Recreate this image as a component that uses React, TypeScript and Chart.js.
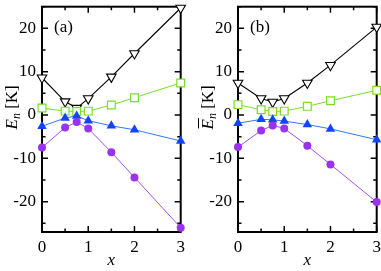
import { useEffect, useRef } from "react";
import { Chart, registerables } from "chart.js";
Chart.register(...registerables);

const xValues = [0, 0.5, 0.75, 1, 1.5, 2, 3];
const xTicks = [0, 1, 2, 3];
const xMinorTicks = [0.5, 1.5, 2.5];
const yTicks = [-20, -10, 0, 10, 20];
const yMinorTicks = [-25, -15, -5, 5, 15, 25];

const aBlack = [8.6, 3.1, 1.6, 3.8, 8.8, 14.2, 24.7];
const aGreen = [1.6, 0.9, 0.8, 0.9, 2.3, 4.0, 7.4];
const aBlue = [-2.6, -0.7, -0.2, -1.3, -2.5, -3.4, -6.0];
const aPurple = [-7.5, -2.9, -1.6, -3.1, -8.6, -14.4, -26.0];

const bBlack = [7.4, 3.8, 3.0, 3.8, 7.4, 11.5, 20.3];
const bGreen = [2.4, 1.2, 0.8, 0.9, 2.0, 3.3, 5.7];
const bBlue = [-1.9, -1.0, -1.1, -1.4, -2.2, -3.2, -5.7];
const bPurple = [-7.4, -3.6, -2.4, -3.1, -7.1, -11.4, -20.1];

const FONT = '"Liberation Serif", "Times New Roman", serif';
const FS = 17;

function pts(arr: number[]) {
  return xValues.map((x, i) => ({ x, y: arr[i] }));
}

function datasets(black: number[], green: number[], blue: number[], purple: number[]) {
  return [
    {
      data: pts(purple),
      borderColor: "#a050f0",
      borderWidth: 1,
      pointStyle: "circle",
      pointRadius: 4,
      pointBackgroundColor: "#9933ee",
      pointBorderColor: "#9933ee",
      pointBorderWidth: 0,
      clip: false,
    },
    {
      data: pts(blue),
      borderColor: "#3377ff",
      borderWidth: 1,
      pointStyle: "triangle",
      pointRadius: 5.5,
      pointBackgroundColor: "#1144ff",
      pointBorderColor: "#1144ff",
      pointBorderWidth: 0,
      clip: false,
    },
    {
      data: pts(green),
      borderColor: "#77e022",
      borderWidth: 1,
      pointStyle: "rect",
      pointRadius: 5.5,
      pointBackgroundColor: "#ffffff",
      pointBorderColor: "#77e022",
      pointBorderWidth: 1.2,
      clip: false,
    },
    {
      data: pts(black),
      borderColor: "#000000",
      borderWidth: 1.1,
      pointStyle: "triangle",
      rotation: 180,
      pointRotation: 180,
      pointRadius: 5.5,
      pointBackgroundColor: "#ffffff",
      pointBorderColor: "#000000",
      pointBorderWidth: 1.1,
      clip: false,
    },
  ];
}

function makePlugin(label: string, overline: boolean) {
  return {
    id: "frame",
    beforeDatasetsDraw(chart: any) {
      const { ctx, chartArea, scales } = chart;
      const { left, right, top, bottom } = chartArea;
      const x = scales.x;
      const y = scales.y;
      ctx.save();
      ctx.strokeStyle = "#000";
      ctx.lineWidth = 1.5;
      const major = 6;
      const minor = 3.5;
      ctx.beginPath();
      const xt = (v: number, len: number) => {
        const px = x.getPixelForValue(v);
        ctx.moveTo(px, bottom);
        ctx.lineTo(px, bottom - len);
        ctx.moveTo(px, top);
        ctx.lineTo(px, top + len);
      };
      const yt = (v: number, len: number) => {
        const py = y.getPixelForValue(v);
        ctx.moveTo(left, py);
        ctx.lineTo(left + len, py);
        ctx.moveTo(right, py);
        ctx.lineTo(right - len, py);
      };
      xTicks.forEach((v) => xt(v, major));
      xMinorTicks.forEach((v) => xt(v, minor));
      yTicks.forEach((v) => yt(v, major));
      yMinorTicks.forEach((v) => yt(v, minor));
      ctx.stroke();
      ctx.lineWidth = 2;
      ctx.strokeRect(left, top, right - left, bottom - top);
      ctx.fillStyle = "#000";
      ctx.font = `${FS}px ${FONT}`;
      ctx.textBaseline = "alphabetic";
      ctx.textAlign = "left";
      ctx.fillText(label, left + 12, y.getPixelForValue(20) + 4);
      ctx.restore();
    },
    afterDraw(chart: any) {
      const { ctx, chartArea } = chart;
      const { left, right, top, bottom } = chartArea;
      ctx.save();
      ctx.fillStyle = "#000";
      ctx.strokeStyle = "#000";
      ctx.font = `italic ${FS}px ${FONT}`;
      ctx.textAlign = "center";
      ctx.textBaseline = "alphabetic";
      ctx.fillText("x", (left + right) / 2, 265);
      const fE = `italic ${FS}px ${FONT}`;
      const fn = `italic 12px ${FONT}`;
      const fK = `${FS}px ${FONT}`;
      ctx.font = fE;
      const wE = ctx.measureText("E").width;
      ctx.font = fn;
      const wn = ctx.measureText("n").width;
      ctx.font = fK;
      const wK = ctx.measureText(" [K]").width;
      const total = wE + wn + wK;
      const cx = left - 25;
      const cy = (top + bottom) / 2 - 12;
      ctx.translate(cx, cy);
      ctx.rotate(-Math.PI / 2);
      ctx.textAlign = "left";
      let px = -total / 2;
      ctx.font = fE;
      ctx.fillText("E", px, 0);
      if (overline) {
        ctx.lineWidth = 1;
        ctx.beginPath();
        ctx.moveTo(px + 1, -14.5);
        ctx.lineTo(px + wE + 1, -14.5);
        ctx.stroke();
      }
      px += wE;
      ctx.font = fn;
      ctx.fillText("n", px, 3);
      px += wn;
      ctx.font = fK;
      ctx.fillText(" [K]", px, 0);
      ctx.restore();
    },
  };
}

function makeConfig(
  black: number[],
  green: number[],
  blue: number[],
  purple: number[],
  yWidth: number,
  padRight: number,
  label: string,
  overline: boolean
): any {
  return {
    type: "line",
    data: { datasets: datasets(black, green, blue, purple) },
    options: {
      responsive: false,
      animation: false,
      devicePixelRatio: 1,
      layout: { padding: { top: 2, right: padRight, left: 0, bottom: 0 } },
      plugins: { legend: { display: false }, tooltip: { enabled: false } },
      scales: {
        x: {
          type: "linear",
          min: 0,
          max: 3,
          grid: { display: false, drawTicks: false },
          border: { display: false },
          afterBuildTicks: (s: any) => {
            s.ticks = xTicks.map((v) => ({ value: v }));
          },
          afterFit: (s: any) => {
            s.height = 39;
            s.paddingLeft = 0;
            s.paddingRight = 0;
          },
          ticks: {
            color: "#000",
            padding: 5,
            maxRotation: 0,
            autoSkip: false,
            font: { family: FONT, size: FS },
          },
        },
        y: {
          type: "linear",
          min: -27,
          max: 25,
          grid: { display: false, drawTicks: false },
          border: { display: false },
          afterBuildTicks: (s: any) => {
            s.ticks = yTicks.map((v) => ({ value: v }));
          },
          afterFit: (s: any) => {
            s.width = yWidth;
            s.paddingTop = 0;
            s.paddingBottom = 0;
          },
          ticks: {
            color: "#000",
            padding: 6,
            autoSkip: false,
            font: { family: FONT, size: FS },
          },
        },
      },
    },
    plugins: [makePlugin(label, overline)],
  };
}

export default function App() {
  const refA = useRef<HTMLCanvasElement>(null);
  const refB = useRef<HTMLCanvasElement>(null);
  useEffect(() => {
    const a = new Chart(refA.current!, makeConfig(aBlack, aGreen, aBlue, aPurple, 42, 9.3, "(a)", false));
    const b = new Chart(refB.current!, makeConfig(bBlack, bGreen, bBlue, bPurple, 48, 23.3, "(b)", true));
    return () => {
      a.destroy();
      b.destroy();
    };
  }, []);
  return (
    <div
      style={{
        position: "fixed",
        left: 0,
        top: 0,
        width: 381,
        height: 271,
        overflow: "hidden",
        background: "#fff",
      }}
    >
      <canvas ref={refA} width={190} height={271} style={{ position: "absolute", left: 0, top: 0 }} />
      <canvas ref={refB} width={210} height={271} style={{ position: "absolute", left: 190, top: 0 }} />
    </div>
  );
}
